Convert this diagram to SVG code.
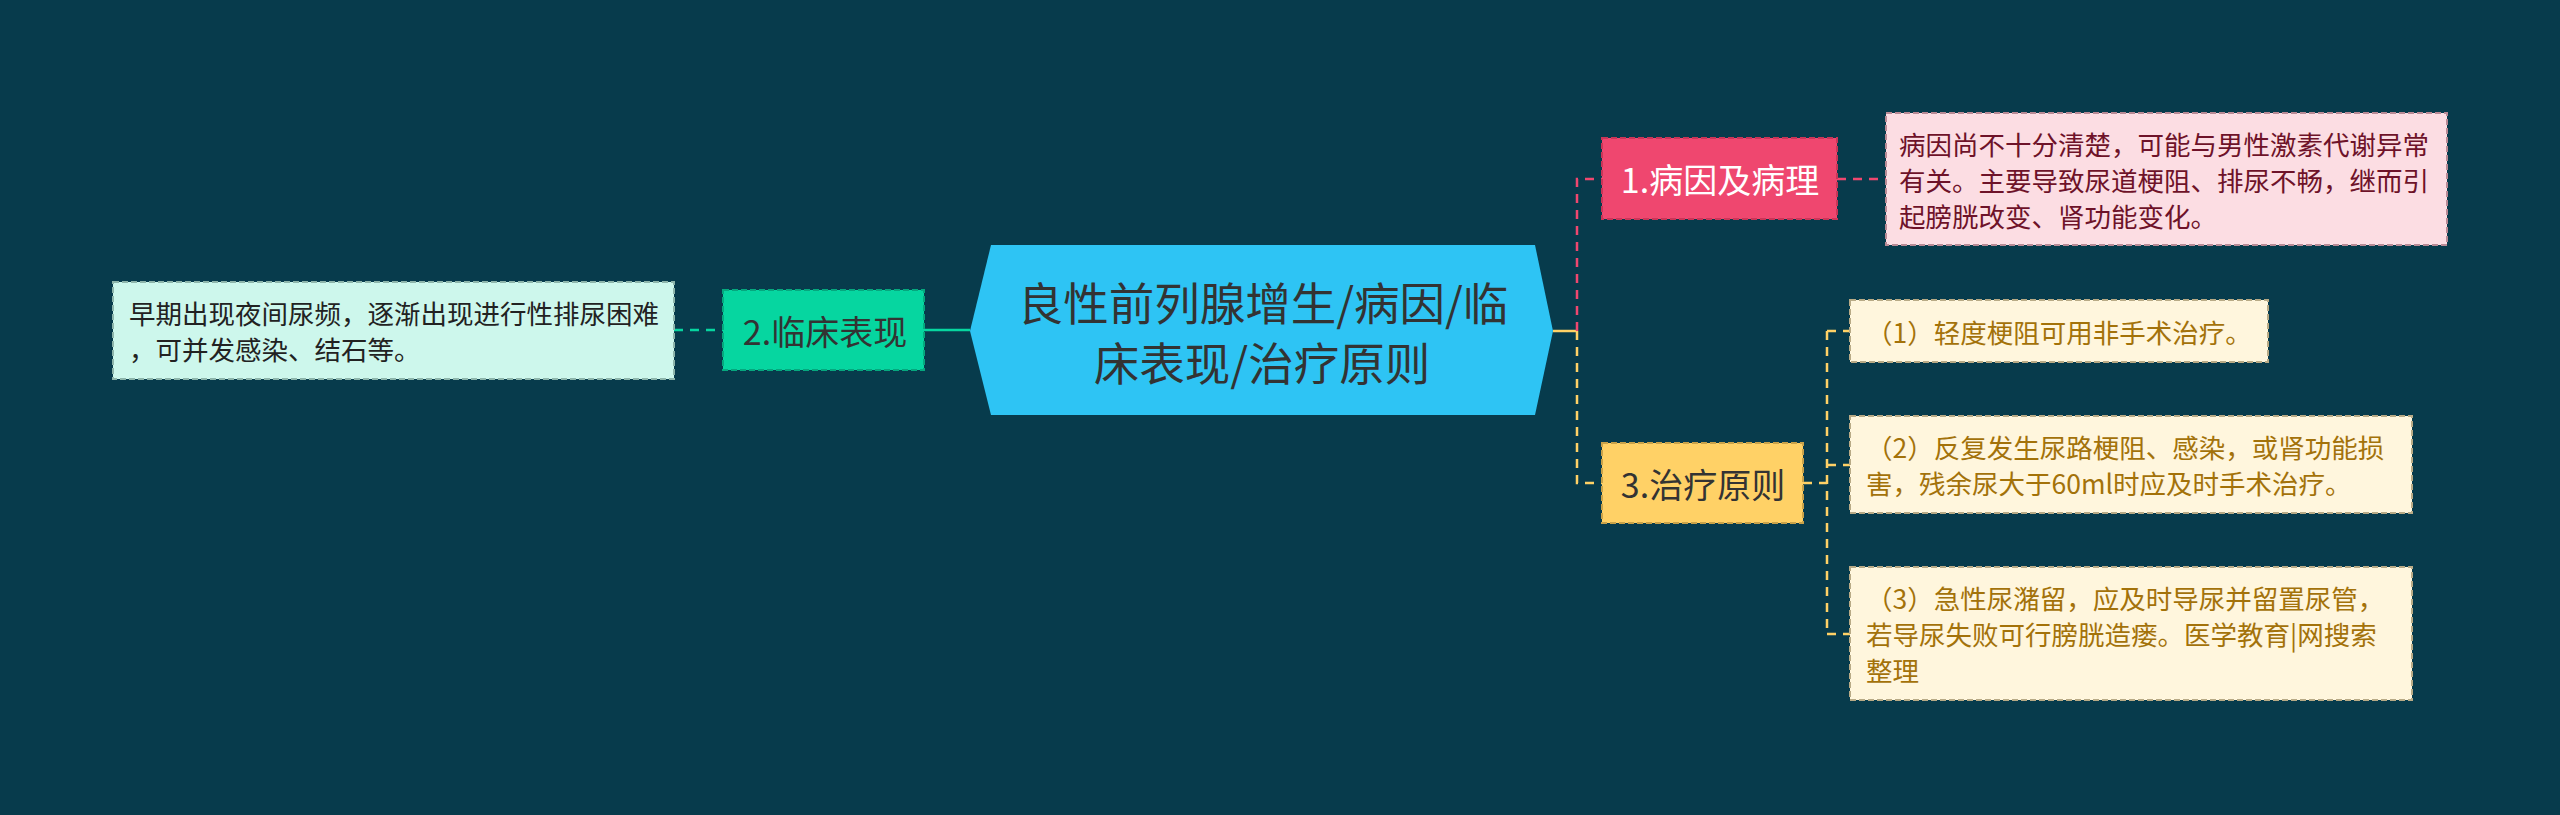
<svg xmlns="http://www.w3.org/2000/svg" width="2560" height="815" viewBox="0 0 2560 815">
<style>
text{font-family:"Noto Sans CJK SC","Noto Sans",sans-serif;dominant-baseline:central}
.c{fill:none;stroke-width:2.5}
.d{stroke-dasharray:9,7}
.lbl{font-size:34px;text-anchor:middle}
.note{font-size:26.5px}
.box{stroke-width:2;stroke-dasharray:6,3}
</style>
<rect width="2560" height="815" fill="#073B4C"/>
<g id="connectors">
<path class="c" d="M1553,331 H1577" stroke="#FFD166"/>
<path class="c d" d="M1577,331 V179 H1602" stroke="#EF476F"/>
<path class="c d" d="M1577,331 V483 H1602" stroke="#FFD166"/>
<path class="c d" d="M1837,179 H1886" stroke="#EF476F"/>
<path class="c d" d="M1803,483 H1827 M1827,331 V634 M1827,331 H1850 M1827,465 H1850 M1827,634 H1850" stroke="#FFD166"/>
<path class="c" d="M924,330 H970" stroke="#06D6A0"/>
<path class="c d" d="M674,330 H723" stroke="#06D6A0"/>
</g>
<g id="center">
<polygon points="991,245 1535,245 1553,331 1535,415 991,415 970,331" fill="#2EC4F4"/>
<text x="1263" y="301" font-size="45.5" text-anchor="middle" fill="#333333">良性前列腺增生/病因/临</text>
<text x="1262" y="361" font-size="45.5" text-anchor="middle" fill="#333333">床表现/治疗原则</text>
</g>
<g id="node1">
<rect class="box" x="1602" y="138" width="235" height="81" fill="#EF476F" stroke="#C93558"/>
<text class="lbl" x="1720" y="178.5" fill="#FFFFFF">1.病因及病理</text>
</g>
<g id="note1">
<rect class="box" x="1886" y="113" width="561" height="132" fill="#FCDDE3" stroke="#B88A95"/>
<text class="note" x="1899" y="143" fill="#6E1229">病因尚不十分清楚，可能与男性激素代谢异常</text>
<text class="note" x="1899" y="179" fill="#6E1229">有关。主要导致尿道梗阻、排尿不畅，继而引</text>
<text class="note" x="1899" y="215" fill="#6E1229">起膀胱改变、肾功能变化。</text>
</g>
<g id="node2">
<rect class="box" x="723" y="290" width="201" height="80" fill="#06D6A0" stroke="#05A87E"/>
<text class="lbl" x="825" y="330" fill="#333333">2.临床表现</text>
</g>
<g id="note2">
<rect class="box" x="113" y="282" width="561" height="97" fill="#CDF7EC" stroke="#8DB5AB"/>
<text class="note" x="129" y="312.5" fill="#222222">早期出现夜间尿频，逐渐出现进行性排尿困难</text>
<text class="note" x="129" y="348.5" fill="#222222">，可并发感染、结石等。</text>
</g>
<g id="node3">
<rect class="box" x="1602" y="443" width="201" height="80" fill="#FFD166" stroke="#C9A24A"/>
<text class="lbl" x="1703" y="483" fill="#333333">3.治疗原则</text>
</g>
<g id="note3a">
<rect class="box" x="1850" y="300" width="418" height="62" fill="#FFF6DD" stroke="#B8AA86"/>
<text class="note" x="1866" y="331" fill="#A3720A">（1）轻度梗阻可用非手术治疗。</text>
</g>
<g id="note3b">
<rect class="box" x="1850" y="416" width="562" height="97" fill="#FFF6DD" stroke="#B8AA86"/>
<text class="note" x="1866" y="446.5" fill="#A3720A">（2）反复发生尿路梗阻、感染，或肾功能损</text>
<text class="note" x="1866" y="482.5" fill="#A3720A">害，残余尿大于60ml时应及时手术治疗。</text>
</g>
<g id="note3c">
<rect class="box" x="1850" y="567" width="562" height="133" fill="#FFF6DD" stroke="#B8AA86"/>
<text class="note" x="1866" y="597.5" fill="#A3720A">（3）急性尿潴留，应及时导尿并留置尿管，</text>
<text class="note" x="1866" y="633.5" fill="#A3720A">若导尿失败可行膀胱造瘘。医学教育|网搜索</text>
<text class="note" x="1866" y="669.5" fill="#A3720A">整理</text>
</g>
</svg>
